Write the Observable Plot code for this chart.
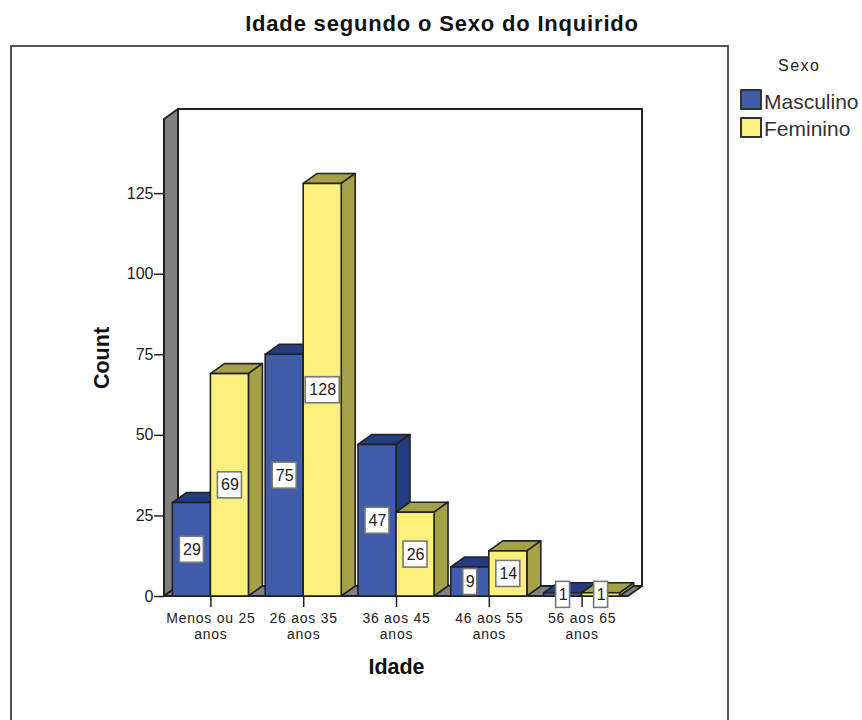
<!DOCTYPE html>
<html><head><meta charset="utf-8">
<script src="https://cdn.jsdelivr.net/npm/d3@7"></script>
<script src="https://cdn.jsdelivr.net/npm/@observablehq/plot@0.6"></script>
<style>
html,body{margin:0;padding:0;background:#fff;overflow:hidden}
#page{position:relative;width:862px;height:720px;font-family:"Liberation Sans",Arial,sans-serif;color:#222}
#title{position:absolute;left:11px;width:862px;top:10px;text-align:center;font-weight:bold;font-size:22px;line-height:28px;color:#111;height:36px;letter-spacing:.82px}
#box{position:absolute;left:10px;top:45px;width:715px;height:680px;border:2px solid #555;box-sizing:content-box}
#chart{position:absolute;left:0;top:46px}
#legend{position:absolute;left:740px;top:0}
#legend .h{position:absolute;left:38px;top:56px;font-size:16px;line-height:20px;letter-spacing:1.5px;white-space:nowrap}
#legend .i{position:absolute;left:0;white-space:nowrap;font-size:21px;line-height:24px}
#legend .s{position:absolute;left:0;top:2px;width:18px;height:17px;border:2px solid #333;border-radius:1px}
#legend .t{position:absolute;left:24px;top:2.5px;color:#333}
svg [aria-label="fx-axis tick label"]{letter-spacing:.75px}
</style></head><body>
<div id="page"><div id="title"></div><div id="box"></div><div id="chart"></div><div id="legend"></div></div>
<script>
const titulo = "Idade segundo o Sexo do Inquirido";
const categorias = ["Menos ou 25 anos","26 aos 35 anos","36 aos 45 anos","46 aos 55 anos","56 aos 65 anos"];
const rotulos = ["Menos ou 25\nanos","26 aos 35\nanos","36 aos 45\nanos","46 aos 55\nanos","56 aos 65\nanos"];
const sexos = ["Masculino","Feminino"];
const masculino = [29,75,47,9,1];
const feminino = [69,128,26,14,1];
const yTicks = [0,25,50,75,100,125];
const yMax = 148;
const cores = ["#3f5dab","#fcf07c"];
const coresLado = ["#243c80","#a4a146"];
const depthX = 14, depthY = 10;

const rows = categorias.flatMap((c,i)=>[
  {cat:c,sexo:sexos[0],n:masculino[i]},
  {cat:c,sexo:sexos[1],n:feminino[i]}
]);
const ink = "#222";

function walls(index, scales, values, dims){
  const x0 = dims.marginLeft, x1 = dims.width - dims.marginRight;
  const yb = scales.y(0), yt = scales.y(yMax);
  const g = d3.create("svg:g");
  const poly = (pts,fill)=>g.append("polygon").attr("points",pts.map(p=>p.join(",")).join(" "))
    .attr("fill",fill).attr("stroke",ink).attr("stroke-width",2).attr("stroke-linejoin","round");
  poly([[x0+depthX,yt-depthY],[x1+depthX,yt-depthY],[x1+depthX,yb-depthY],[x0+depthX,yb-depthY]],"#fff");
  poly([[x0,yt],[x0+depthX,yt-depthY],[x0+depthX,yb-depthY],[x0,yb]],"#808080");
  poly([[x0,yb],[x0+depthX,yb-depthY],[x1+depthX,yb-depthY],[x1,yb]],"#808080");
  return g.node();
}

function faces(index, scales, values, dims, ctx, next){
  const node = next(index, scales, values, dims, ctx);
  d3.select(node).selectAll("rect").each(function(i){
    const r = d3.select(this);
    const x=+r.attr("x"), y=+r.attr("y"), w=+r.attr("width"), h=+r.attr("height");
    const c = coresLado[sexos.indexOf(rows[i].sexo)];
    const ins = pts=>{
      const p = document.createElementNS("http://www.w3.org/2000/svg","polygon");
      p.setAttribute("points",pts.map(q=>q.join(",")).join(" "));
      p.setAttribute("fill",c);p.setAttribute("stroke",ink);p.setAttribute("stroke-width",1.6);
      p.setAttribute("stroke-linejoin","round");
      this.parentNode.insertBefore(p,this);
    };
    ins([[x,y],[x+depthX,y-depthY],[x+w+depthX,y-depthY],[x+w,y]]);
    ins([[x+w,y],[x+w+depthX,y-depthY],[x+w+depthX,y+h-depthY],[x+w,y+h]]);
  });
  return node;
}

function caixas(index, scales, values, dims, ctx, next){
  const node = next(index, scales, values, dims, ctx);
  const g = d3.create("svg:g");
  const off = scales.x.bandwidth()/2;
  for (const i of index){
    const s = String(rows[i].n);
    const w = s.length*10 + 4, h = 26;
    g.append("rect").attr("x",values.x[i]+off-w/2).attr("y",values.y[i]-h/2)
      .attr("width",w).attr("height",h).attr("fill","#fff").attr("stroke","#777").attr("stroke-width",1.6);
  }
  g.node().appendChild(node);
  return g.node();
}

const fmt = c => rotulos[categorias.indexOf(c)];

const plot = Plot.plot({
  width:862, height:674,
  marginLeft:164, marginRight:234, marginTop:73, marginBottom:124,
  style:{background:"transparent",fontFamily:'"Liberation Sans",Arial,sans-serif',overflow:"visible"},
  fx:{domain:categorias,padding:0,round:false,axis:null,label:null},
  x:{domain:sexos,paddingInner:0,paddingOuter:0.22,round:false,axis:null,label:null},
  y:{domain:[0,yMax],label:null,axis:null},
  color:{domain:sexos,range:cores},
  marks:[
    Plot.frame({facet:"super",stroke:"none",render:walls}),
    Plot.axisY({ticks:yTicks,tickSize:10,tickPadding:1,fontSize:16,label:null,stroke:ink,strokeWidth:1.5,color:"#222"}),
    Plot.barY(rows,{fx:"cat",x:"sexo",y:"n",fill:"sexo",stroke:ink,strokeWidth:1.6,render:faces}),
    Plot.axisFx({anchor:"bottom",tickSize:11,tickPadding:4,fontSize:14,lineHeight:1.15,label:null,tickFormat:fmt,stroke:ink,strokeWidth:1.5,color:"#222"}),
    Plot.text(rows,{fx:"cat",x:"sexo",y:d=>d.n/2,text:d=>String(d.n),fontSize:16,fill:"#222",render:caixas}),
    Plot.text(["Idade"],{facet:"super",frameAnchor:"bottom",dy:71,lineAnchor:"middle",fontWeight:"bold",fontSize:21.5,fill:"#111"}),
    Plot.text(["Count"],{facet:"super",frameAnchor:"left",dx:-62,rotate:-90,textAnchor:"middle",lineAnchor:"middle",fontWeight:"bold",fontSize:21.5,fill:"#111"})
  ]
});
document.getElementById("chart").appendChild(plot);
document.getElementById("title").textContent = titulo;
const leg = document.getElementById("legend");
leg.innerHTML = '<div class="h">Sexo</div>' + sexos.map((s,i)=>
  `<div class="i" style="top:${87+i*27.5}px"><span class="s" style="background:${cores[i]}"></span><span class="t">${s}</span></div>`).join("");
</script></body></html>
